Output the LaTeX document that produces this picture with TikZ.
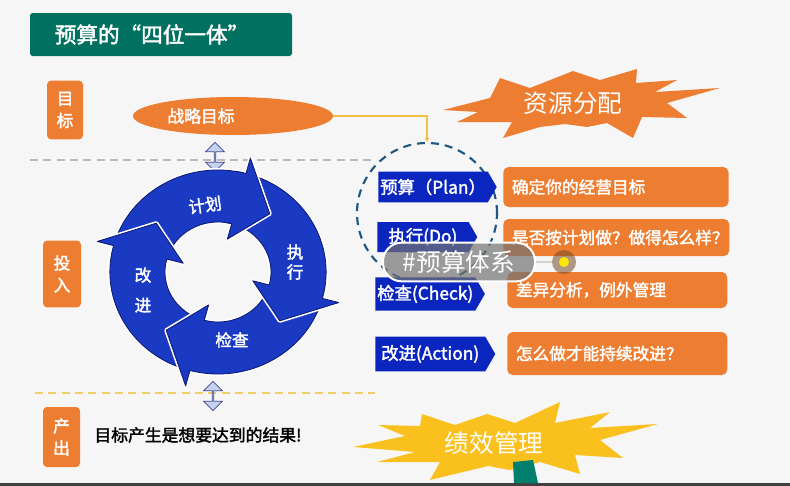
\documentclass[tikz,border=0pt]{standalone}
\usepackage{fontspec}
\setmainfont{Noto Sans CJK SC}
\newfontfamily\cjkbf{Noto Sans CJK SC}[FakeBold=2]
\usetikzlibrary{arrows.meta,positioning,shapes.geometric,shapes.symbols,shapes.arrows}
\definecolor{bgc}{RGB}{246,246,246}
\definecolor{titlegreen}{RGB}{0,112,96}
\definecolor{mOrange}{RGB}{237,125,49}
\definecolor{mYellow}{RGB}{250,192,30}
\definecolor{tagblue}{RGB}{10,38,190}
\definecolor{cycblue}{RGB}{26,58,196}
\definecolor{cycedge}{RGB}{12,24,112}
\definecolor{circblue}{RGB}{30,88,128}
\definecolor{lineyellow}{RGB}{240,192,70}
\definecolor{stemgreen}{RGB}{0,128,108}
\definecolor{arrfill}{RGB}{196,210,240}
\tikzset{
  titlebox/.style={fill=titlegreen, rounded corners=2pt, text=white, minimum width=196.5pt, minimum height=32.25pt, font=\cjkbf\fontsize{16.2}{18}\selectfont},
  sidetag/.style={fill=mOrange, rounded corners=3pt, text=white, align=center, inner sep=0pt, font=\cjkbf\fontsize{12.5}{16.5}\selectfont},
  goalell/.style={ellipse, fill=mOrange, text=white, minimum width=150pt, minimum height=28.5pt, font=\cjkbf\fontsize{12.6}{14}\selectfont},
  goalln/.style={draw=lineyellow, line width=1.1pt, -{Triangle[length=3pt,width=3.5pt]}},
  dashcirc/.style={circle, draw=circblue, line width=1.6pt, dash pattern=on 6pt off 4.5pt, minimum size=105pt, inner sep=0pt},
  blutag/.style={signal, signal to=east, signal pointer angle=120, fill=tagblue, text=white, anchor=west, inner sep=1.5pt, font=\cjkbf\fontsize{13}{15}\selectfont},
  infobox/.style={fill=mOrange, rounded corners=4pt, text=white, anchor=west, align=left, inner xsep=6.5pt, font=\cjkbf\fontsize{12.5}{14}\selectfont},
  cyclab/.style={text=white, align=center, inner sep=0pt, font=\cjkbf\fontsize{12.5}{15}\selectfont},
  dblarrow/.style={double arrow, shape border rotate=90, fill=arrfill, draw=cycedge!80, line width=0.6pt, minimum height=22pt, minimum width=14pt, double arrow head extend=3.5pt, inner sep=0pt},
  cycarr/.style={preaction={draw=white, line width=3pt, line join=round}, fill=cycblue, draw=cycedge, line width=0.6pt, line join=round},
  gline/.style={dash pattern=on 6pt off 4pt, line width=1.1pt},
  bursttext/.style={text=white, font=\fontsize{18.5}{20}\selectfont},
  pilltag/.style={rectangle, rounded corners=14pt, fill=black!55, fill opacity=0.7, text opacity=1, draw=white, draw opacity=1, line width=1.5pt, text=white, minimum width=114pt, minimum height=29pt, font=\fontsize{18.5}{20}\selectfont},
}
\newcommand{\cycR}{102}
\newcommand{\cycr}{50}
\newcommand{\cycRo}{118}
\newcommand{\cycRi}{34}
\newcommand{\cycM}{76}
% one arrow of the cycle: tail angle, barb angle, tip angle
\newcommand{\cycarrow}[3]{%
  \path[cycarr] (#1:\cycR) arc[start angle=#1, end angle=#2, radius=\cycR]
    -- (#2:\cycRo) -- (#3:\cycM) -- (#2:\cycRi) -- (#2:\cycr)
    arc[start angle=#2, end angle=#1, radius=\cycr] -- cycle;}

\begin{document}
\begin{tikzpicture}[x=0.75pt, y=-0.75pt]
  \useasboundingbox (0,0) rectangle (790,486);
  \fill[bgc] (0,0) rectangle (790,486);
  \fill[black!75] (0,483) rectangle (790,486);

  % --- title ---
  \node[titlebox] (title) at (161,34.5) {预算的“四位一体”\hspace*{13.5pt}};

  % --- left column tags ---
  \node[sidetag, minimum width=27pt, minimum height=44pt] (tgoal) at (65,110) {目\\标};
  \node[sidetag, minimum width=28.5pt, minimum height=50pt] (tinput) at (62,274) {投\\入};
  \node[sidetag, minimum width=27.75pt, minimum height=45pt] (toutput) at (61.5,437) {产\\出};

  % --- separators ---
  \draw[gline, gray!55] (30,160) -- (372,160);
  \draw[gline, lineyellow!80] (35,393) -- (375,393);

  % --- strategic goal ---
  \node[goalell] (goal) at (233,116) {战略目标\hspace*{48pt}};
  \node[dashcirc] (budcirc) at (427,213) {};
  \draw[goalln] (goal.east) -| (budcirc.north);

  % --- double arrows ---
  \node[dblarrow] (uparr) at (215,157) {};
  \node[dblarrow] (dnarr) at (213,396) {};

  % --- PDCA cycle ---
  \begin{scope}[shift={(218,272)}, xscale=1.06]
    \cycarrow{195}{285}{310}
    \cycarrow{105}{195}{220}
    \cycarrow{15}{105}{130}
    \cycarrow{-75}{15}{40}
    % head of the first arrow again on top
    \draw[white, line width=3pt, line join=round] (285:\cycR) -- (285:\cycRo) -- (310:\cycM) -- (285:\cycRi) -- (285:\cycr);
    \filldraw[fill=cycblue, draw=cycedge, line width=0.6pt, line join=round]
      (279:\cycR) arc[start angle=279, end angle=285, radius=\cycR]
      -- (285:\cycRo) -- (310:\cycM) -- (285:\cycRi) -- (285:\cycr)
      arc[start angle=285, end angle=279, radius=\cycr];
  \end{scope}
  \node[cyclab, rotate=8] (lplan) at (205,205) {计划};
  \node[cyclab] (ldo) at (295,262) {执\\行};
  \node[cyclab] (lcheck) at (232,340) {检查};
  \node[cyclab, font=\cjkbf\fontsize{12.5}{22.5}\selectfont] (lact) at (143,290) {改\\进};

  % --- PDCA tags ---
  \node[blutag, minimum width=86pt, minimum height=23pt] (tplan) at (378,187) {预算（Plan）};
  \node[blutag, minimum width=75pt, minimum height=22.5pt] (tdo) at (377,237) {执行(Do)};
  \node[blutag, minimum width=82pt, minimum height=25pt] (tcheck) at (375,294) {检查(Check)};
  \node[blutag, minimum width=90pt, minimum height=26pt] (tact) at (375,354) {改进(Action)};

  % --- descriptions ---
  \node[infobox, text width=156pt, minimum height=30pt] (bplan) at (503,187) {确定你的经营目标};
  \node[infobox, text width=156.5pt, minimum height=27.75pt] (bdo) at (503,237.5) {是否按计划做？做得怎么样？};
  \node[infobox, text width=152pt, minimum height=27pt] (bcheck) at (507,290) {差异分析，例外管理};
  \node[infobox, text width=152pt, minimum height=32.25pt] (bact) at (507,353.5) {怎么做才能持续改进？};

  % --- burst: resources ---
  \fill[mOrange] (443,110) -- (490,98) -- (500,78) -- (530,88) -- (573,71) -- (600,80)
    -- (637,69) -- (636,83) -- (677,80) -- (655,92) -- (720,88) -- (667,103) -- (687,118)
    -- (642,117) -- (633,138) -- (607,123) -- (587,127) -- (565,124) -- (540,127)
    -- (503,138) -- (512,122) -- (457,122) -- (478,112) -- cycle;
  \node[bursttext] (resalloc) at (573,103) {资源分配};

  % --- burst: performance ---
  \fill[mYellow] (353,447) -- (405,436) -- (378,425) -- (420,426) -- (422,414) -- (455,425)
    -- (487,414) -- (515,423) -- (560,402) -- (555,423) -- (610,412) -- (590,428)
    -- (658,424) -- (600,440) -- (623,458) -- (575,455) -- (580,474) -- (540,462)
    -- (510,470) -- (488,466) -- (430,480) -- (440,462) -- (377,462) -- (415,452) -- cycle;
  \fill[stemgreen] (513,462) -- (533,460) -- (538,483) -- (514,483) -- cycle;
  \node[bursttext] (perf) at (494,443) {绩效管理};

  % --- output text ---
  \node[font=\cjkbf\fontsize{12.6}{14}\selectfont] (result) at (198,435) {目标产生是想要达到的结果!};

  % --- hashtag overlay ---
  \node[pilltag] (hashtag) at (459,262) {\#预算体系};
  \node[circle, fill=brown!60!black, fill opacity=0.55, minimum size=18pt, inner sep=0pt] (dot) at (564,262) {};
  \draw[gray!35, line width=2pt] (hashtag.east) -- (dot.west);
  \node[circle, fill=yellow!90!orange, minimum size=7.5pt, inner sep=0pt] (dotin) at (dot.center) {};
\end{tikzpicture}
\end{document}
